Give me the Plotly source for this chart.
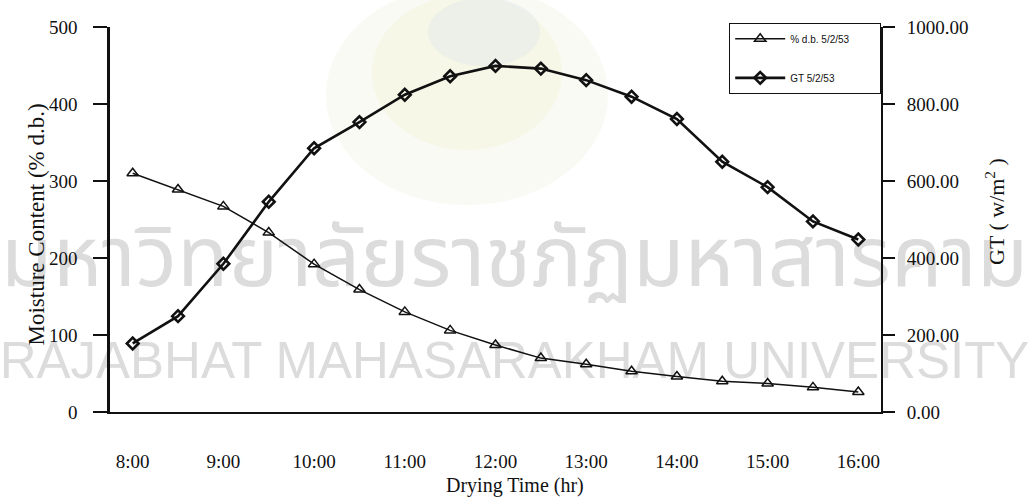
import plotly.graph_objects as go

# ---- data -------------------------------------------------------------
times = ["8:00", "8:30", "9:00", "9:30", "10:00", "10:30", "11:00", "11:30",
         "12:00", "12:30", "13:00", "13:30", "14:00", "14:30", "15:00",
         "15:30", "16:00"]
moisture = [310, 289, 267, 233, 192, 159, 130, 106, 87, 70, 62, 53, 46, 40,
            37, 32, 26]
gt = [178, 249, 385, 546, 685, 753, 824, 872, 899, 892, 862, 819, 761, 650,
      584, 495, 448]
mc_name = "% d.b. 5/2/53"
gt_name = "GT 5/2/53"
left_ticks = [0, 100, 200, 300, 400, 500]
left_grid = [100, 200, 300, 400]
right_ticks = [0, 200, 400, 600, 800, 1000]

# ---- layout geometry ---------------------------------------------------
W, H = 1029, 504
L, R, T, B = 110, 148, 27, 92
PW, PH = W - L - R, H - T - B


def px(x):
    return (x - L) / PW


def py(y):
    return (H - B - y) / PH


idx = list(range(len(times)))
label_idx = idx[::2]
bound_idx = [i + 1.5 for i in idx[::2][:-1]]

SERIF = "Liberation Serif, Times New Roman, serif"
PAD = "\u00a0" * 9

fig = go.Figure()
fig.add_trace(go.Scatter(
    x=idx, y=moisture, name=mc_name + PAD, mode="lines+markers",
    line=dict(color="#111", width=1.5),
    marker=dict(symbol="triangle-up-open", size=10, color="#111",
                line=dict(width=1.5, color="#111")),
    legendgroup="a", xaxis="x", yaxis="y"))
fig.add_trace(go.Scatter(
    x=idx, y=gt, name=gt_name + PAD, mode="lines+markers",
    line=dict(color="#111", width=2.6),
    marker=dict(symbol="diamond-open", size=9, color="#111",
                line=dict(width=2.6, color="#111")),
    legendgroup="b", xaxis="x", yaxis="y2"))

fig.update_layout(
    width=W, height=H,
    margin=dict(l=L, r=R, t=T, b=B),
    paper_bgcolor="white", plot_bgcolor="rgba(0,0,0,0)",
    font=dict(family=SERIF, color="#111", size=19),
    showlegend=True,
    legend=dict(x=1, xanchor="right", y=1.01, yanchor="top",
                bgcolor="white", bordercolor="#111", borderwidth=1.2,
                font=dict(family="Liberation Sans, Arial, sans-serif",
                          size=10, color="#111"),
                tracegroupgap=20, traceorder="grouped", itemwidth=50),
    xaxis=dict(range=[-0.5, len(times) - 0.5], tickvals=label_idx,
               ticktext=[times[i] for i in label_idx], ticks="",
               showgrid=False, zeroline=False, showline=True,
               linecolor="#111", linewidth=2, ticklabelstandoff=31,
               tickfont=dict(size=19)),
    xaxis2=dict(range=[-0.5, len(times) - 0.5], overlaying="x", anchor="y",
                side="bottom", tickvals=bound_idx, ticks="outside",
                ticklen=10, tickwidth=1.6, tickcolor="#111",
                showticklabels=False, showgrid=False, zeroline=False,
                showline=False),
    xaxis3=dict(range=[-0.5, len(times) - 0.5], overlaying="x", anchor="y",
                side="top", showline=True, linecolor="#aaa", linewidth=1,
                ticks="", showticklabels=False, showgrid=False,
                zeroline=False),
    yaxis=dict(range=[0, 500], tickvals=left_ticks, ticks="outside",
               ticklen=14, tickwidth=1.6, tickcolor="#111",
               showgrid=False, zeroline=False, showline=True,
               linecolor="#111", linewidth=2.5, ticklabelstandoff=12,
               tickfont=dict(size=19)),
    yaxis3=dict(range=[0, 500], overlaying="y", tickvals=left_grid,
                showgrid=True, gridcolor="#111", gridwidth=1.6,
                showticklabels=False, ticks="", zeroline=False,
                showline=False),
    yaxis2=dict(range=[0, 1000], overlaying="y", side="right",
                tickvals=right_ticks, tickformat=".2f", ticks="outside",
                ticklen=12, tickwidth=1.6, tickcolor="#111",
                showgrid=False, zeroline=False, showline=True,
                linecolor="#111", linewidth=2, ticklabelstandoff=8,
                tickfont=dict(size=19)),
)

# axis titles
fig.add_annotation(text="Moisture Content (% d.b.)", xref="paper",
                   yref="paper", x=px(22), y=py(225), textangle=-90,
                   showarrow=False, font=dict(size=23, family=SERIF))
fig.add_annotation(text="GT ( w/m<sup>2</sup> )", xref="paper",
                   yref="paper", x=px(1011), y=py(212), textangle=-90,
                   showarrow=False, font=dict(size=22, family=SERIF))
fig.add_annotation(text="Drying Time (hr)", xref="paper", yref="paper",
                   x=px(515), y=py(485), yanchor="middle", showarrow=False,
                   font=dict(size=20, family=SERIF))

# faint university emblem + watermark text (drawn behind the data)
fig.add_shape(type="circle", xref="paper", yref="paper",
              x0=px(326), x1=px(608), y0=py(205), y1=py(-15),
              line=dict(width=0), fillcolor="rgba(214,226,180,0.16)",
              layer="below")
fig.add_shape(type="circle", xref="paper", yref="paper",
              x0=px(372), x1=px(562), y0=py(150), y1=py(-5),
              line=dict(width=0), fillcolor="rgba(245,236,190,0.22)",
              layer="below")
fig.add_shape(type="circle", xref="paper", yref="paper",
              x0=px(428), x1=px(540), y0=py(66), y1=py(-2),
              line=dict(width=0), fillcolor="rgba(205,220,240,0.25)",
              layer="below")
wm = "#dcdcdc"
fig.add_shape(type="rect", xref="paper", yref="paper",
              x0=px(0), x1=px(W), y0=py(300), y1=py(230),
              line=dict(width=0), fillcolor="rgba(0,0,0,0)", layer="below",
              label=dict(text="มหาวิทยาลัยราชภัฏมหาสารคาม",
                         font=dict(size=84, color=wm,
                                   family="Noto Sans Thai, Noto Sans, sans-serif")))
fig.add_shape(type="rect", xref="paper", yref="paper",
              x0=px(0), x1=px(W), y0=py(385), y1=py(325),
              line=dict(width=0), fillcolor="rgba(0,0,0,0)", layer="below",
              label=dict(text="RAJABHAT MAHASARAKHAM UNIVERSITY",
                         font=dict(size=51, color=wm,
                                   family="Liberation Sans, Arial, sans-serif")))

fig.write_html("out.html")
